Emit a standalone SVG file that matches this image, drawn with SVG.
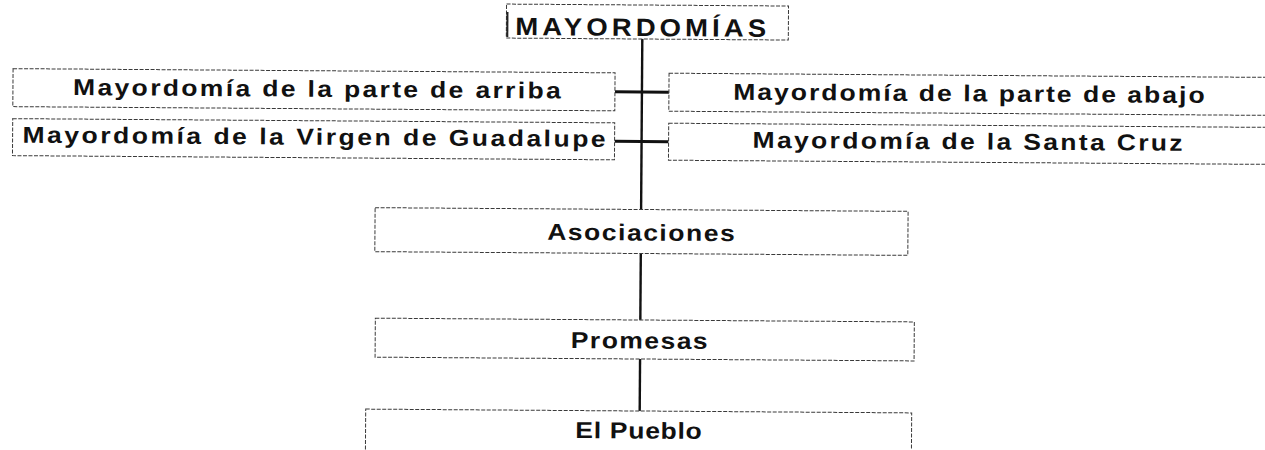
<svg xmlns="http://www.w3.org/2000/svg" width="1265" height="450" viewBox="0 0 1265 450">
<style>
  .box { fill: #ffffff; stroke: #3a3a3a; stroke-width: 1; stroke-dasharray: 4 1.5; }
  .lbl { font-family: "Liberation Sans", Arial, sans-serif; font-weight: bold; font-size: 23px; fill: #111; text-anchor: middle; }
  .ttl { font-family: "Liberation Sans", Arial, sans-serif; font-weight: bold; font-size: 25px; fill: #111; }
  .conn { stroke: #111; fill: none; }
</style>
<rect x="0" y="0" width="1265" height="450" fill="#ffffff"/>
<g transform="rotate(0.4 640 225)">
  <g id="connectors">
    <line class="conn" x1="641" y1="39" x2="641" y2="209.5" stroke-width="2.4"/>
    <line class="conn" x1="641" y1="253.5" x2="641" y2="320" stroke-width="2.4"/>
    <line class="conn" x1="641" y1="359" x2="641" y2="411" stroke-width="2.4"/>
    <line class="conn" x1="614" y1="92" x2="668" y2="92" stroke-width="3"/>
    <line class="conn" x1="614" y1="141.5" x2="668" y2="141.5" stroke-width="3"/>
  </g>
  <g id="mayordomias">
    <rect class="box" x="505" y="5" width="282" height="34"/>
    <line x1="506" y1="13" x2="506" y2="38" stroke="#222" stroke-width="2"/>
    <g transform="translate(514 36) scale(1.1 1)"><text class="ttl" x="0" y="0" textLength="228">MAYORDOMÍAS</text></g>
  </g>
  <g id="arriba">
    <rect class="box" x="12" y="73" width="602" height="38"/>
    <g transform="translate(316 99) scale(1.15 1)"><text class="lbl" x="0" y="0" textLength="424">Mayordomía de la parte de arriba</text></g>
  </g>
  <g id="guadalupe">
    <rect class="box" x="12" y="123" width="602" height="37"/>
    <g transform="translate(313.5 147) scale(1.15 1)"><text class="lbl" x="0" y="0" textLength="507">Mayordomía de la Virgen de Guadalupe</text></g>
  </g>
  <g id="abajo">
    <rect class="box" x="668" y="73" width="610" height="38"/>
    <g transform="translate(968 99) scale(1.15 1)"><text class="lbl" x="0" y="0" textLength="410">Mayordomía de la parte de abajo</text></g>
  </g>
  <g id="santacruz">
    <rect class="box" x="668" y="123" width="610" height="37"/>
    <g transform="translate(967 147) scale(1.15 1)"><text class="lbl" x="0" y="0" textLength="374">Mayordomía de la Santa Cruz</text></g>
  </g>
  <g id="asociaciones">
    <rect class="box" x="375" y="209.5" width="533" height="44"/>
    <g transform="translate(641 240.5) scale(1.15 1)"><text class="lbl" x="0" y="0" textLength="163">Asociaciones</text></g>
  </g>
  <g id="promesas">
    <rect class="box" x="376" y="320" width="539" height="39"/>
    <g transform="translate(640 348.5) scale(1.15 1)"><text class="lbl" x="0" y="0" textLength="119">Promesas</text></g>
  </g>
  <g id="pueblo">
    <rect class="box" x="367" y="411" width="546" height="60"/>
    <g transform="translate(640 438.5) scale(1.15 1)"><text class="lbl" x="0" y="0" textLength="110">El Pueblo</text></g>
  </g>
</g>
</svg>
